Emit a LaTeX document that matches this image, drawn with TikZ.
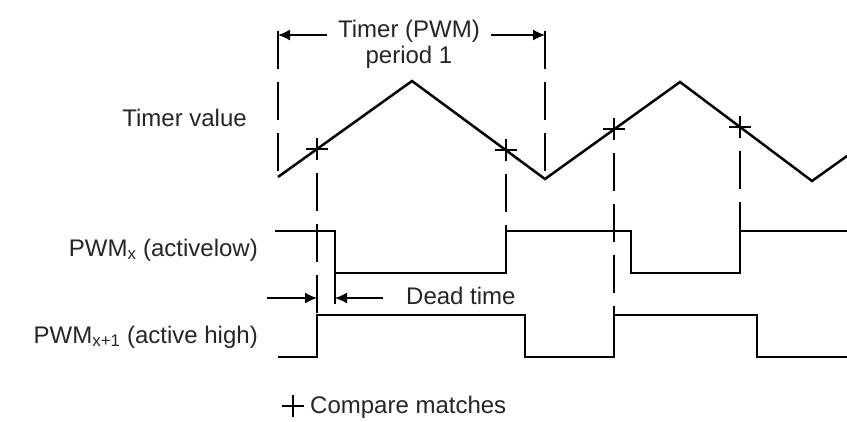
\documentclass[tikz,border=0pt]{standalone}
\usepackage{fontspec}
\setmainfont{Liberation Sans}
\usetikzlibrary{arrows.meta}

\tikzset{
  sig/.style={line width=2.5pt, line join=miter},
  guide/.style={line width=1.3pt, dash pattern=on 38pt off 13pt},
  dim/.style={line width=1.3pt, -{Latex[length=12pt,width=11pt]}},
  lbl/.style={font=\fontsize{24}{26}\selectfont, text=black!85, inner sep=0pt},
}
\newcommand\matchmark[1]{\draw[line width=1.3pt] (#1) +(-11,0) -- +(11,0) (#1) +(0,-11) -- +(0,11);}

\begin{document}
\begin{tikzpicture}[x=1pt, y=-1pt]
  \path[fill=white, use as bounding box] (0,0) rectangle (847,421);
  % levels
  \coordinate (ptop) at (0,31);
  \coordinate (xhi) at (0,231);
  \coordinate (xlo) at (0,273);
  \coordinate (yhi) at (0,315);
  \coordinate (ylo) at (0,357);
  \coordinate (dt) at (0,298);
  % timer corners
  \coordinate (v0) at (278,177);
  \coordinate (p1) at (412,81);
  \coordinate (v1) at (545,179);
  \coordinate (p2) at (680,82);
  \coordinate (v2) at (812,181);
  \coordinate (tend) at (847,156);
  % compare matches
  \coordinate (m1) at (317,149);
  \coordinate (m2) at (506,150);
  \coordinate (m3) at (614,129);
  \coordinate (m4) at (740,127);
  % labels
  \node[lbl, anchor=east] (lbltimer) at (247,118) {Timer value};
  \node[lbl, anchor=east] (lblpwmx) at (258,250) {PWM\textsubscript{x} (activelow)};
  \node[lbl, anchor=east] (lblpwmy) at (258,337) {PWM\textsubscript{x+1} (active high)};
  \node[lbl, align=center] (lblper) at (409,44) {Timer (PWM)\\period 1};
  \node[lbl, anchor=west] (lbldead) at (406,296) {Dead time};
  \node[lbl, anchor=west] (lblcmp) at (310,407) {Compare matches};
  % timer value
  \draw[sig] (v0) -- (p1) -- (v1) -- (p2) -- (v2) -- (tend);
  \matchmark{m1}
  \matchmark{m2}
  \matchmark{m3}
  \matchmark{m4}
  \matchmark{293,406}
  % period
  \draw[guide] (v0 |- ptop) -- (v0);
  \draw[guide] (v1 |- ptop) -- (v1);
  \coordinate (pl) at (327,35);
  \coordinate (pr) at (491,35);
  \draw[dim] (pl) -- (v0 |- pl);
  \draw[dim] (pr) -- (v1 |- pr);
  % guides down
  \draw[guide] (m1) ++(0,24) -- (m1 |- yhi);
  \draw[guide] (m2) ++(0,24) -- (m2 |- xhi);
  \draw[guide] (m3) ++(0,24) -- (m3 |- yhi);
  \draw[guide] (m4) ++(0,24) -- (m4 |- xhi);
  % PWMx
  \draw[sig] (275,231) -- (335,231) -- (335,273) -- (m2 |- xlo) -- (m2 |- xhi)
    -- (631,231) -- (631,273) -- (m4 |- xlo) -- (m4 |- xhi) -- (847,231);
  % PWMx+1
  \draw[sig] (278,357) -- (m1 |- ylo) -- (m1 |- yhi) -- (525,315) -- (525,357)
    -- (m3 |- ylo) -- (m3 |- yhi) -- (757,315) -- (757,357) -- (847,357);
  % dead time
  \coordinate (fx) at (335,273);
  \draw[line width=1.3pt] (fx) -- (fx |- 0,304);
  \coordinate (dl) at (267,298);
  \coordinate (dr) at (383,298);
  \draw[dim] (dl) -- (m1 |- dt);
  \draw[dim] (dr) -- (fx |- dt);
\end{tikzpicture}
\end{document}
